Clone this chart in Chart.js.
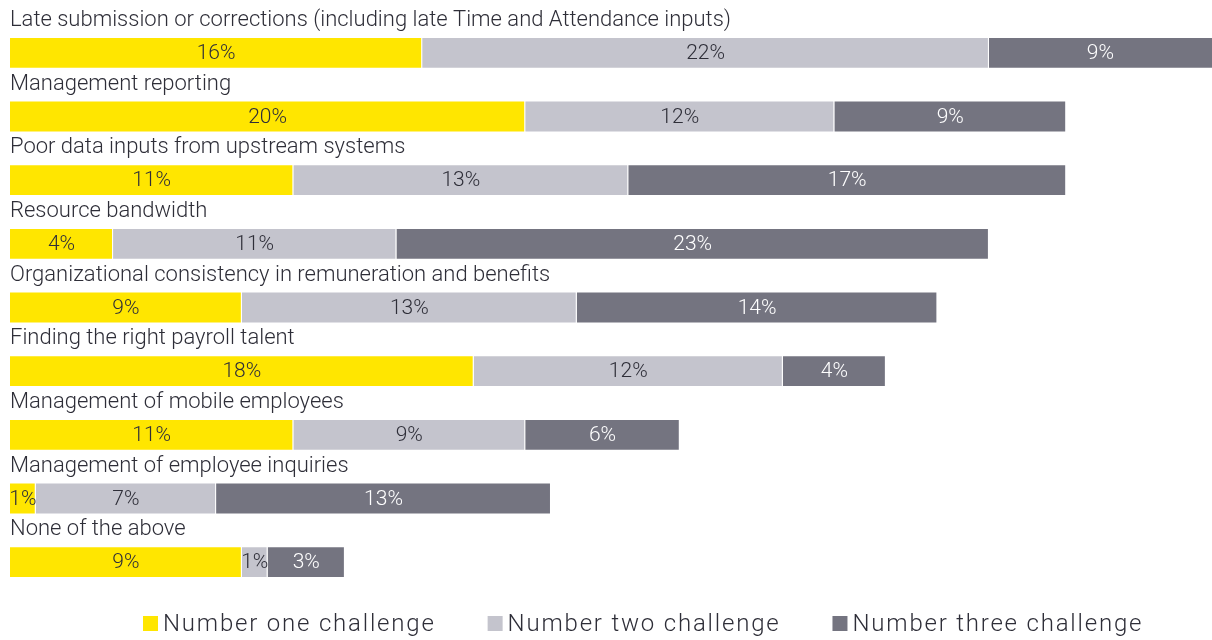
<!DOCTYPE html>
<html>
<head>
<meta charset="utf-8">
<script src="https://cdn.jsdelivr.net/npm/chart.js@4.4.1/dist/chart.umd.min.js"></script>
<style>
    html, body { margin: 0; padding: 0; background: #ffffff; }
    #wrap { width: 1212px; height: 640px; position: relative; }
</style>
</head>
<body>
<div id="wrap"><canvas id="challengeChart"></canvas></div>
<script>
    // Payroll challenges, share of respondents (%)
    const categories = [
        'Late submission or corrections (including late Time and Attendance inputs)',
        'Management reporting',
        'Poor data inputs from upstream systems',
        'Resource bandwidth',
        'Organizational consistency in remuneration and benefits',
        'Finding the right payroll talent',
        'Management of mobile employees',
        'Management of employee inquiries',
        'None of the above'
    ];
    const seriesNames = ['Number one challenge', 'Number two challenge', 'Number three challenge'];
    const firstChallenge = [16, 20, 11, 4, 9, 18, 11, 1, 9];
    const secondChallenge = [22, 12, 13, 11, 13, 12, 9, 7, 1];
    const thirdChallenge = [9, 9, 17, 23, 14, 4, 6, 13, 3];

    const colors = ['#ffe600', '#c4c4cd', '#747480'];
    const valueColors = ['#2e2e38', '#2e2e38', '#ffffff'];
    const textColor = '#2e2e38';

    // Category names above each bar and the % inside every segment
    const barLabels = {
        id: 'barLabels',
        afterDatasetsDraw(chart) {
            const ctx = chart.ctx;
            ctx.save();

            const first = chart.getDatasetMeta(0).data;
            ctx.font = '300 22px Roboto';
            ctx.fillStyle = textColor;
            ctx.textAlign = 'left';
            ctx.textBaseline = 'alphabetic';
            first.forEach((bar, i) => {
                const top = bar.y - bar.height / 2;
                ctx.fillText(chart.data.labels[i], chart.chartArea.left, top - 11);
            });

            ctx.font = '300 21px Roboto';
            ctx.textAlign = 'center';
            ctx.textBaseline = 'middle';
            chart.data.datasets.forEach((ds, d) => {
                ctx.fillStyle = valueColors[d];
                chart.getDatasetMeta(d).data.forEach((bar, i) => {
                    const right = Math.min(bar.x, chart.chartArea.right);
                    const cx = (bar.base + right) / 2;
                    ctx.fillText(ds.data[i] + '%', cx, bar.y + 1);
                });
            });
            ctx.restore();
        }
    };

    // Legend row at the bottom, drawn by hand for the wide letter spacing
    const bottomLegend = {
        id: 'bottomLegend',
        afterDraw(chart) {
            const ctx = chart.ctx;
            ctx.save();
            ctx.font = '300 24px Roboto';
            ctx.letterSpacing = '1.8px';
            ctx.textBaseline = 'middle';
            ctx.textAlign = 'left';
            let x = 143;
            const y = 624;
            chart.data.datasets.forEach((ds) => {
                ctx.fillStyle = ds.backgroundColor;
                ctx.fillRect(x, y - 8, 15, 15);
                ctx.fillStyle = textColor;
                ctx.fillText(ds.label, x + 20, y + 1);
                x += 20 + ctx.measureText(ds.label).width + 52;
            });
            ctx.restore();
        }
    };

    new Chart(document.getElementById('challengeChart'), {
        type: 'bar',
        data: {
            labels: categories,
            datasets: [
                { label: seriesNames[0], data: firstChallenge, backgroundColor: colors[0] },
                { label: seriesNames[1], data: secondChallenge, backgroundColor: colors[1] },
                { label: seriesNames[2], data: thirdChallenge, backgroundColor: colors[2] }
            ]
        },
        options: {
            indexAxis: 'y',
            responsive: true,
            maintainAspectRatio: false,
            animation: false,
            layout: {
                padding: { top: 21, bottom: 46, left: 10, right: 0 }
            },
            datasets: {
                bar: {
                    barPercentage: 1,
                    categoryPercentage: 0.5,
                    borderWidth: 1,
                    borderColor: 'rgba(255,255,255,0.6)'
                }
            },
            scales: {
                x: {
                    stacked: true,
                    min: 0,
                    max: 46.66,
                    display: false
                },
                y: {
                    stacked: true,
                    display: false
                }
            },
            plugins: {
                legend: { display: false },
                tooltip: { enabled: false }
            }
        },
        plugins: [barLabels, bottomLegend]
    });
</script>
</body>
</html>
